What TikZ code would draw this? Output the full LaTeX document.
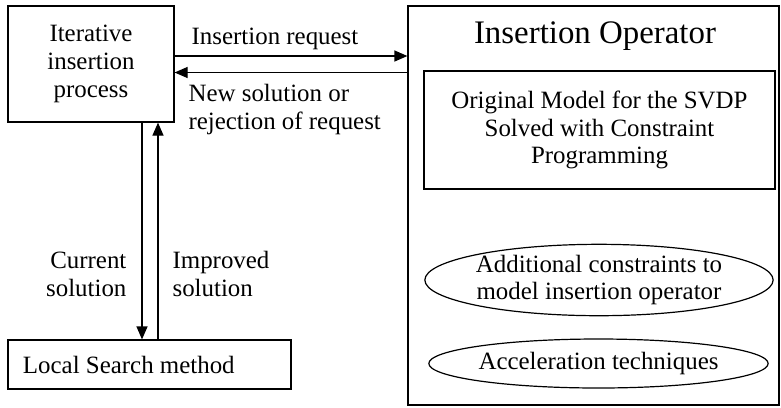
\documentclass[tikz,border=0pt]{standalone}
\usepackage{fontspec}
\setmainfont{Liberation Serif}
\usetikzlibrary{arrows.meta,shapes.geometric}

\begin{document}
\begin{tikzpicture}[x=1bp, y=-1bp, line width=1.2bp,
    >={Triangle[length=13bp,width=11bp]},
    box/.style={draw, rectangle, inner sep=0pt, align=center},
    oval/.style={draw, ellipse, inner sep=0pt, align=center},
    lbl/.style={inner sep=0pt, font=\fontsize{25}{28}\selectfont}]
    \useasboundingbox (0,0) rectangle (781,407);
    \fontsize{25}{28}\selectfont

    % left column
    \node[box, minimum width=166bp, minimum height=116bp]
        (iter) at (91,64) {Iterative\\insertion\\process};
    \node[box, minimum width=283bp, minimum height=49bp]
        (local) at (149.5,364.5) {};
    \node[lbl, anchor=west] (localtxt) at ([xshift=15bp]local.west) {Local Search method};

    % operator block
    \node[box, minimum width=371bp, minimum height=399bp]
        (op) at (593.5,205.5) {};
    \node[inner sep=0pt, font=\fontsize{33}{36}\selectfont]
        (optitle) at (595,36) {Insertion Operator};
    \node[box, minimum width=351bp, minimum height=118bp]
        (model) at (599.5,130) {Original Model for the SVDP\\Solved with Constraint\\Programming};
    \node[oval, minimum width=318bp, minimum height=52bp]
        (extra) at (599,280) {Additional constraints to\\model insertion operator};
    \node[oval, minimum width=307bp, minimum height=49bp]
        (accel) at (598.5,363.5) {Acceleration techniques};

    % connectors
    \draw[->] ([yshift=8bp]iter.east) -- ([yshift=8bp]iter.east -| op.west);
    \draw[->] ([yshift=-8.5bp]iter.east -| op.west) -- ([yshift=-8.5bp]iter.east);
    \draw[->] ([xshift=51bp]iter.south) -- ([xshift=51bp]iter.south |- local.north);
    \draw[->] ([xshift=67bp]iter.south |- local.north) -- ([xshift=67bp]iter.south);

    % labels
    \node[lbl, anchor=south] (reqlbl) at (275,50) {Insertion request};
    \node[lbl, anchor=north west, align=left] (anslbl) at (188,84) {New solution or\\rejection of request};
    \node[lbl, anchor=east, align=right] (curlbl) at (127,274) {Current\\solution};
    \node[lbl, anchor=west, align=left] (implbl) at (172,274) {Improved\\solution};
\end{tikzpicture}
\end{document}
